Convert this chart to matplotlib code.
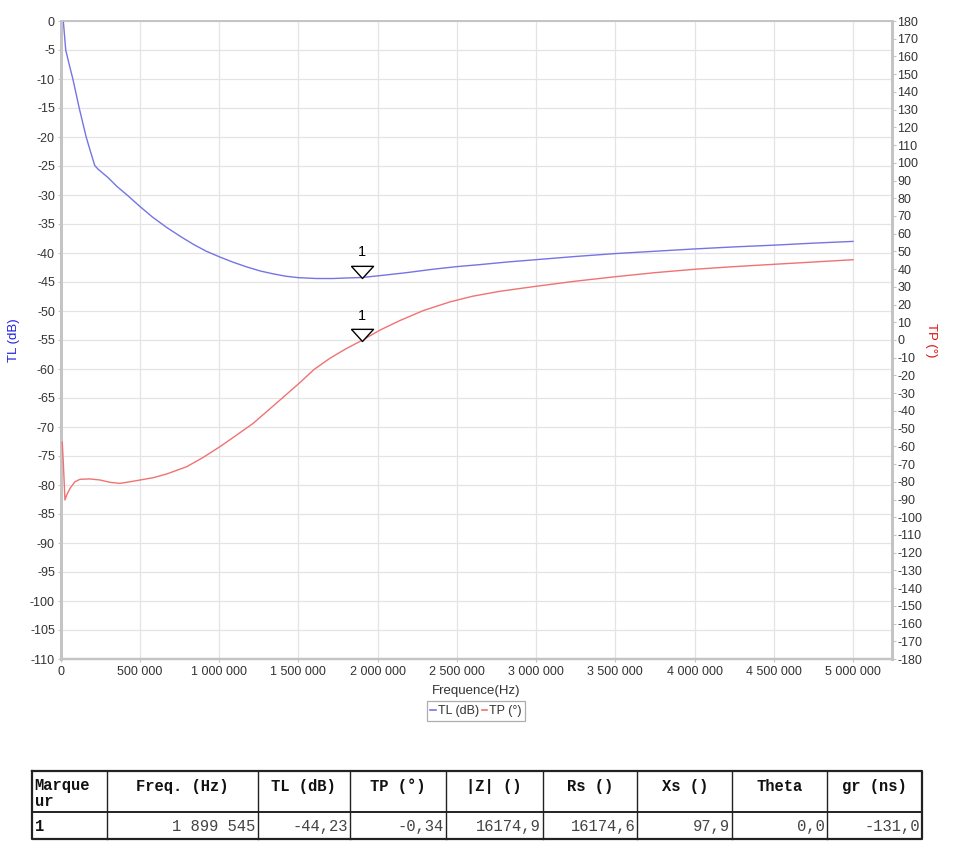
import numpy as np
import matplotlib
matplotlib.use("Agg")
import matplotlib.pyplot as plt
from matplotlib.ticker import FuncFormatter, MultipleLocator
from matplotlib.lines import Line2D

# --- data ---
# TL (dB), left axis
tl_freq = [17.7e3, 33e3, 55e3, 78e3, 98e3, 118e3, 140e3, 162e3, 189e3, 216e3, 235e3,
           300e3, 355e3, 420e3, 502e3, 580e3, 670e3, 760e3, 838e3, 920e3,
           1.006e6, 1.09e6, 1.175e6, 1.26e6, 1.343e6, 1.42e6, 1.5e6, 1.616e6, 1.72e6,
           1.81e6, 1.899545e6, 2.016e6, 2.18e6, 2.35e6, 2.5e6, 2.647e6, 2.82e6, 3.0e6,
           3.25e6, 3.5e6, 3.75e6, 4.0e6, 4.25e6, 4.5e6, 4.75e6, 5.0e6]
tl_db = [0.0, -5.0, -7.5, -10.0, -12.5, -15.0, -17.5, -20.0, -22.5, -24.9, -25.5,
         -27.0, -28.5, -30.0, -32.0, -33.8, -35.6, -37.2, -38.5, -39.7,
         -40.7, -41.6, -42.4, -43.1, -43.6, -44.0, -44.25, -44.4, -44.4,
         -44.3, -44.23, -43.9, -43.4, -42.8, -42.35, -42.0, -41.55, -41.15,
         -40.6, -40.1, -39.7, -39.3, -38.95, -38.65, -38.3, -38.0]

# TP (deg), right axis
tp_freq = [11e3, 18e3, 28e3, 39e3, 60e3, 91e3, 123e3, 186e3, 249e3, 312e3, 375e3,
           438e3, 502e3, 585e3, 670e3, 796e3, 901e3, 1.006e6, 1.112e6, 1.216e6,
           1.364e6, 1.511e6, 1.6e6, 1.7e6, 1.8e6, 1.899545e6, 2.016e6, 2.142e6,
           2.289e6, 2.457e6, 2.6e6, 2.773e6, 3.0e6, 3.25e6, 3.5e6, 3.75e6, 4.0e6,
           4.25e6, 4.5e6, 4.75e6, 5.0e6]
tp_deg = [-57.7, -69.6, -90.3, -87.5, -83.7, -80.0, -78.6, -78.4, -79.0, -80.3, -80.9,
          -80.0, -79.0, -77.7, -75.6, -71.5, -66.2, -60.2, -53.6, -47.0,
          -35.5, -24.0, -16.6, -10.3, -5.0, -0.34, 5.6, 11.0,
          16.6, 21.5, 24.7, 27.5, 30.3, 33.2, 35.7, 38.0, 39.9,
          41.4, 42.7, 44.0, 45.3]

marker_freq = 1899545
marker_tl = -44.23
marker_tp = -0.34

table_header = ["Marque\nur", "Freq. (Hz)", "TL (dB)", "TP (\u00b0)", "|Z| ()",
                "Rs ()", "Xs ()", "Theta", "gr (ns)"]
table_row = ["1", "1 899 545", "-44,23", "-0,34", "16174,9", "16174,6",
             "97,9", "0,0", "-131,0"]

W, H = 966, 858
plt.rcParams['font.family'] = ['Liberation Sans', 'DejaVu Sans']

fig = plt.figure(figsize=(W / 100, H / 100), dpi=100)

# plot area in pixels
L, R, T, B = 60.5, 892, 21, 659
ax = fig.add_axes([L / W, 1 - B / H, (R - L) / W, (B - T) / H])
ax2 = ax.twinx()

blue = '#7474e6'
red = '#f07272'
spine_col = '#c4c4c4'
grid_col = '#e4e4e4'

ax.plot(tl_freq, tl_db, color=blue, lw=1.0, zorder=3)
ax2.plot(tp_freq, tp_deg, color=red, lw=1.0, zorder=3)

ax.set_xlim(0, 5.246e6)
ax.set_ylim(-110, 0)
ax2.set_ylim(-180, 180)

ax.xaxis.set_major_locator(MultipleLocator(500000))
ax.yaxis.set_major_locator(MultipleLocator(5))
ax2.yaxis.set_major_locator(MultipleLocator(10))
ax.xaxis.set_major_formatter(FuncFormatter(lambda v, p: f"{int(round(v)):,}".replace(",", " ")))
ax.yaxis.set_major_formatter(FuncFormatter(lambda v, p: f"{int(round(v))}"))
ax2.yaxis.set_major_formatter(FuncFormatter(lambda v, p: f"{int(round(v))}"))

ax.grid(True, color=grid_col, lw=0.9)
ax.set_axisbelow(True)

for a in (ax, ax2):
    for s in a.spines.values():
        s.set_color(spine_col)
    a.spines['left'].set_linewidth(2.0)
    a.spines['right'].set_linewidth(2.0)
    a.spines['bottom'].set_linewidth(1.6)
    a.spines['top'].set_linewidth(1.2)

ax.tick_params(axis='both', labelsize=9, colors='#333333', length=2, width=0.8,
               color=spine_col, pad=2)
ax.tick_params(axis='x', pad=3)
ax2.tick_params(axis='y', labelsize=9, colors='#333333', length=3, width=0.8,
                color=spine_col, pad=1)

ax.set_xlabel("Frequence(Hz)", fontsize=9.5, color='#333333', labelpad=5)
ax.set_ylabel("TL (dB)", fontsize=9.5, color='#2020e0')
ax2.set_ylabel("TP (\u00b0)", fontsize=9.5, color='#e01010', rotation=-90, va='center')
ax.yaxis.set_label_coords((20 - L) / (R - L), 0.5)
ax2.yaxis.set_label_coords((931 - L) / (R - L), 0.5)

# markers: open down-triangles with tip on the curve
tri = [(-1, 1.1), (1, 1.1), (0, 0), (-1, 1.1)]
for a, yv in ((ax, marker_tl), (ax2, marker_tp)):
    a.plot([marker_freq], [yv], marker=tri, ms=17.5, mfc='white', mec='black',
           mew=1.0, ls='none', zorder=5)
    a.annotate("1", (marker_freq, yv), xytext=(0, 13), textcoords='offset points',
               ha='center', va='bottom', fontsize=10.5, color='black', zorder=6)

# legend
handles = [Line2D([], [], color=blue, lw=1.2), Line2D([], [], color=red, lw=1.2)]
leg = fig.legend(handles, ["TL (dB)", "TP (\u00b0)"], loc='center',
                 bbox_to_anchor=(476 / W, 1 - 711 / H), ncol=2, fontsize=9,
                 handlelength=0.45, handletextpad=0.15, columnspacing=0.2,
                 borderpad=0.3, fancybox=False, borderaxespad=0)
leg.get_frame().set_edgecolor('#9a9a9a')
leg.get_frame().set_linewidth(0.9)
for t in leg.get_texts():
    t.set_color('#333333')

# marker table
tab = fig.add_axes([0, 0, 1, 1])
tab.set_xlim(0, W)
tab.set_ylim(H, 0)
tab.axis('off')

col_x = [31.7, 107.3, 257.7, 350, 445.7, 542.7, 637.3, 732.3, 826.7, 921.7]
row_top, row_mid, row_bot = 770.7, 812.3, 839

for xv in col_x[1:-1]:
    tab.plot([xv, xv], [row_top, row_bot], color='#222222', lw=1.0)
tab.plot([col_x[0], col_x[-1]], [row_mid, row_mid], color='#222222', lw=1.4)
tab.plot([col_x[0], col_x[-1], col_x[-1], col_x[0], col_x[0]],
         [row_top, row_top, row_bot, row_bot, row_top], color='#222222', lw=1.6)

mono = ['Liberation Mono', 'DejaVu Sans Mono']
for i, h in enumerate(table_header):
    if i == 0:
        tab.text(col_x[0] + 3, row_top + 7, h, ha='left', va='top', family=mono,
                 fontsize=11.2, fontweight='bold', linespacing=1.15, color='#111111')
    else:
        tab.text((col_x[i] + col_x[i + 1]) / 2, row_top + 16, h, ha='center',
                 va='center', family=mono, fontsize=11.2, fontweight='bold',
                 color='#111111')

for i, v in enumerate(table_row):
    if i == 0:
        tab.text(col_x[0] + 3, (row_mid + row_bot) / 2 + 1, v, ha='left', va='center',
                 family=mono, fontsize=11.2, fontweight='bold', color='#111111')
    else:
        tab.text(col_x[i + 1] - 2, (row_mid + row_bot) / 2 + 1, v, ha='right',
                 va='center', family=mono, fontsize=11.2, color='#444444')

fig.savefig("out.png", dpi=100)
